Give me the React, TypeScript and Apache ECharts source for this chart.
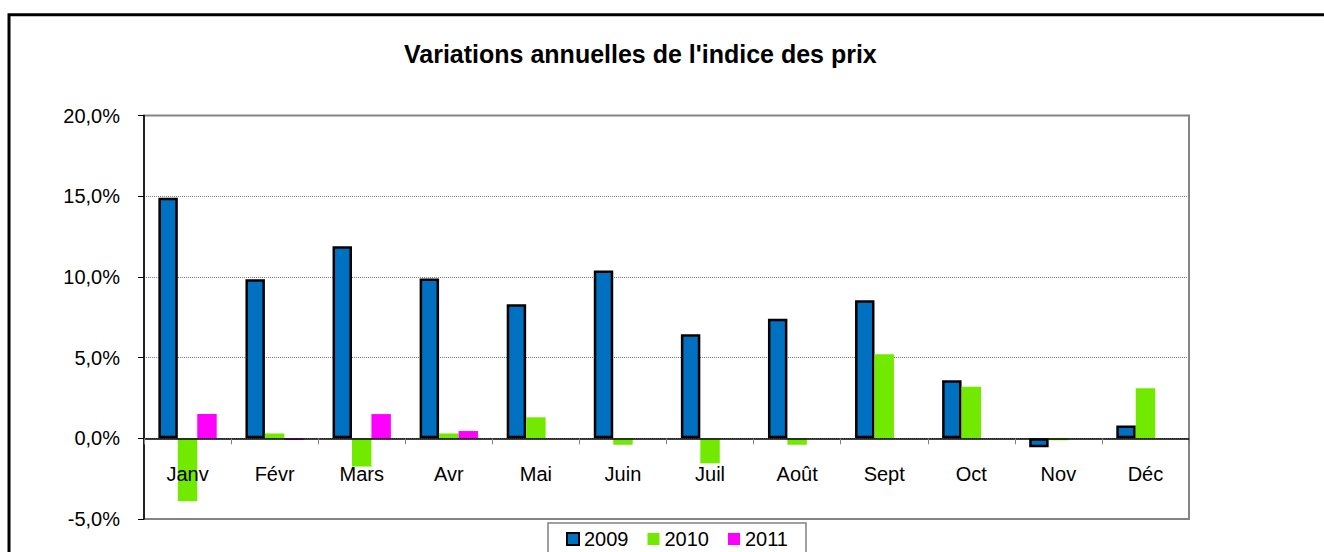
import { useEffect, useRef } from 'react';
import * as echarts from 'echarts';

const months = ['Janv', 'Févr', 'Mars', 'Avr', 'Mai', 'Juin', 'Juil', 'Août', 'Sept', 'Oct', 'Nov', 'Déc'];
const years = ['2009', '2010', '2011'];
const values2009 = [14.9, 9.85, 11.9, 9.9, 8.3, 10.4, 6.45, 7.4, 8.55, 3.6, -0.55, 0.8];
const values2010 = [-3.9, 0.3, -1.75, 0.3, 1.3, -0.4, -1.55, -0.4, 5.2, 3.2, -0.12, 3.1];
const values2011 = [1.5, -0.1, 1.5, 0.45, null, null, null, null, null, null, null, null];
const yMin = -5;
const yMax = 20;
const yStep = 5;
const titleText = "Variations annuelles de l'indice des prix";

const FONT = "'Liberation Sans', Arial, sans-serif";

export default function App() {
  const ref = useRef<HTMLDivElement>(null);

  useEffect(() => {
    document.body.style.margin = '0';
    if (!ref.current) return;
    const chart = echarts.init(ref.current, undefined, { renderer: 'svg' });
    chart.setOption({
      animation: false,
      backgroundColor: '#ffffff',
      textStyle: { fontFamily: FONT },
      title: {
        text: titleText,
        left: 404,
        top: 41,
        padding: 0,
        textStyle: { fontFamily: FONT, fontSize: 25, fontWeight: 'bold', color: '#000' },
      },
      graphic: [
        {
          type: 'rect',
          shape: { x: 9, y: 14.7, width: 2000, height: 2000 },
          style: { fill: 'none', stroke: '#000', lineWidth: 3 },
          silent: true,
          z: 100,
        },
      ],
      legend: {
        data: years,
        left: 548,
        top: 523,
        orient: 'horizontal',
        icon: 'rect',
        itemWidth: 12,
        itemHeight: 12,
        itemGap: 19,
        padding: [6, 18, 6, 18],
        borderColor: '#808080',
        borderWidth: 1.5,
        textStyle: { fontFamily: FONT, fontSize: 20, color: '#000' },
      },
      grid: {
        left: 144,
        right: 135,
        top: 115.5,
        bottom: 33,
        show: true,
        borderColor: '#868686',
        borderWidth: 2,
        containLabel: false,
        outerBoundsMode: 'none',
      },
      xAxis: {
        type: 'category',
        data: months,
        z: 10,
        axisLine: { onZero: true, lineStyle: { color: '#000', width: 1.5 } },
        axisTick: { show: true, length: 6, lineStyle: { color: '#808080', width: 1 } },
        axisLabel: { fontFamily: FONT, fontSize: 20, color: '#000', margin: -55 },
        splitLine: { show: false },
      },
      yAxis: {
        type: 'value',
        min: yMin,
        max: yMax,
        interval: yStep,
        axisLine: { show: true, lineStyle: { color: '#000', width: 1.5 } },
        axisTick: { show: true, length: 6, lineStyle: { color: '#000', width: 1 } },
        axisLabel: {
          fontFamily: FONT,
          fontSize: 20,
          color: '#000',
          margin: 24,
          formatter: (v: number) => v.toFixed(1).replace('.', ',') + '%',
        },
        splitLine: { show: true, lineStyle: { color: '#808080', type: 'dotted', width: 1 } },
      },
      series: [
        {
          name: years[0],
          type: 'bar',
          data: values2009,
          barGap: '0%',
          barCategoryGap: '33%',
          itemStyle: { color: '#0070C0', borderColor: '#000', borderWidth: 2.5 },
        },
        {
          name: years[1],
          type: 'bar',
          data: values2010,
          barGap: '0%',
          barCategoryGap: '33%',
          itemStyle: { color: '#72EA00' },
        },
        {
          name: years[2],
          type: 'bar',
          data: values2011,
          barGap: '0%',
          barCategoryGap: '33%',
          itemStyle: { color: '#FF00FF' },
        },
      ],
    });
    return () => chart.dispose();
  }, []);

  return <div ref={ref} style={{ width: 1324, height: 552 }} />;
}
